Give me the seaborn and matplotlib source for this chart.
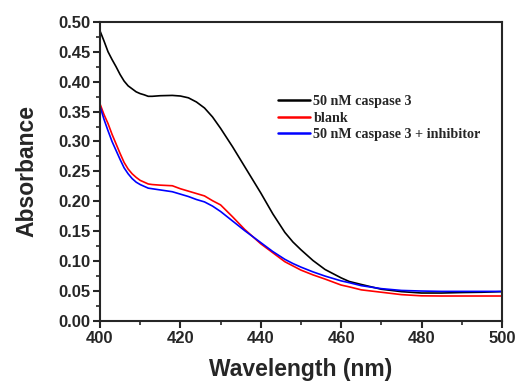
import numpy as np
import pandas as pd
import seaborn as sns
import matplotlib.pyplot as plt
from matplotlib.ticker import MultipleLocator

# values
wavelength = [400, 401, 402, 403, 404, 405, 406, 407, 408, 409, 410, 411, 412, 413, 415,
              418, 420, 422, 424, 426, 428, 430, 433, 436, 438, 440, 443, 446, 448, 450,
              453, 456, 460, 462, 465, 470, 475, 480, 485, 490, 495, 500]
caspase = [0.485, 0.468, 0.450, 0.437, 0.425, 0.412, 0.401, 0.393, 0.388, 0.383, 0.380,
           0.378, 0.3755, 0.3755, 0.3765, 0.377, 0.376, 0.373, 0.366, 0.356, 0.341, 0.322,
           0.291, 0.258, 0.236, 0.214, 0.179, 0.148, 0.132, 0.119, 0.101, 0.086, 0.072,
           0.066, 0.061, 0.053, 0.049, 0.0467, 0.0467, 0.0475, 0.048, 0.049]
blank = [0.363, 0.345, 0.330, 0.312, 0.296, 0.280, 0.265, 0.254, 0.246, 0.240, 0.235,
         0.232, 0.229, 0.228, 0.227, 0.226, 0.221, 0.217, 0.213, 0.209, 0.201, 0.194,
         0.174, 0.153, 0.141, 0.129, 0.114, 0.099, 0.092, 0.085, 0.077, 0.070, 0.060,
         0.057, 0.052, 0.048, 0.044, 0.042, 0.0417, 0.0417, 0.0417, 0.0417]
inhibitor = [0.359, 0.337, 0.318, 0.300, 0.285, 0.270, 0.256, 0.246, 0.238, 0.232, 0.228,
             0.225, 0.222, 0.221, 0.219, 0.216, 0.212, 0.208, 0.203, 0.199, 0.192, 0.183,
             0.167, 0.151, 0.141, 0.131, 0.116, 0.103, 0.096, 0.090, 0.082, 0.075, 0.067,
             0.064, 0.059, 0.054, 0.051, 0.050, 0.0494, 0.0494, 0.0494, 0.0494]
labels = ['50 nM caspase 3', 'blank', '50 nM caspase 3 + inhibitor']
colors = ['black', 'red', 'blue']

df = pd.concat([
    pd.DataFrame({'wl': wavelength, 'abs': vals, 'sample': lab})
    for vals, lab in zip([caspase, blank, inhibitor], labels)
])

sns.set_style('ticks')
plt.rcParams['font.family'] = ['Liberation Sans', 'DejaVu Sans']

fig = plt.figure(figsize=(5.18, 3.83), dpi=100)
ax = fig.add_axes([0.193, 0.162, 0.776, 0.781])

sns.lineplot(data=df, x='wl', y='abs', hue='sample', hue_order=labels,
             palette=colors, linewidth=1.2, ax=ax)

ax.set_xlim(400, 500)
ax.set_ylim(0, 0.5)
ax.xaxis.set_major_locator(MultipleLocator(20))
ax.xaxis.set_minor_locator(MultipleLocator(10))
ax.yaxis.set_major_locator(MultipleLocator(0.05))
ax.yaxis.set_minor_locator(MultipleLocator(0.025))
ax.yaxis.set_major_formatter(plt.FormatStrFormatter('%.2f'))
ax.tick_params(which='major', direction='out', length=5, width=1.5, labelsize=12, pad=2)
ax.tick_params(which='minor', direction='out', length=3, width=1.2)
for lab in ax.get_xticklabels() + ax.get_yticklabels():
    lab.set_fontweight('bold')
for sp in ax.spines.values():
    sp.set_linewidth(1.5)
    sp.set_visible(True)

ax.set_xlabel('Wavelength (nm)', fontsize=16.5, fontweight='bold', labelpad=9)
ax.set_ylabel('Absorbance', fontsize=16.5, fontweight='bold', labelpad=14)

leg = ax.legend(loc='center left', bbox_to_anchor=(0.443, 0.678), frameon=False,
                borderpad=0, borderaxespad=0,
                prop={'family': 'Liberation Serif', 'weight': 'bold', 'size': 10.2},
                handlelength=2.25, handletextpad=0.25, labelspacing=0.25)
for line in leg.get_lines():
    line.set_linewidth(1.8)

fig.savefig('out.png', dpi=100)
